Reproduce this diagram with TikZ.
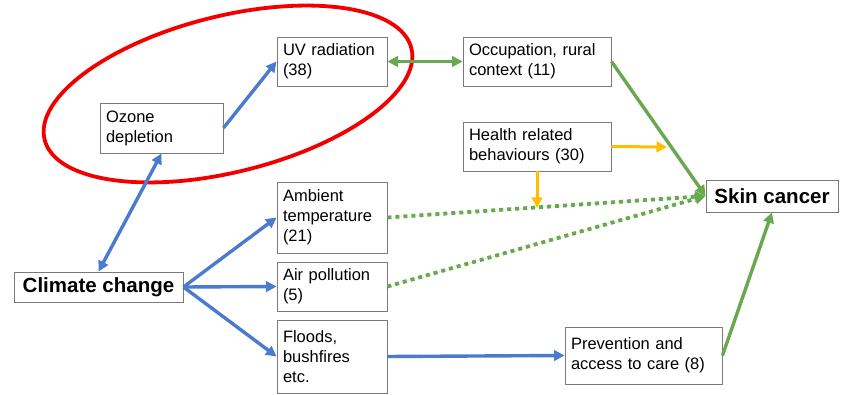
\documentclass[tikz,border=0pt]{standalone}
\usepackage{fontspec}
\setmainfont{Liberation Sans}
\usetikzlibrary{arrows.meta}

\definecolor{boxgray}{HTML}{7A7A7A}
\definecolor{linkblue}{HTML}{4A7BD0}
\definecolor{linkgreen}{HTML}{6AA84F}
\definecolor{linkyellow}{HTML}{FFBF00}
\definecolor{ringred}{HTML}{F20000}

\tikzset{
  box/.style={draw=boxgray, line width=0.9pt, fill=white, align=left,
    inner xsep=6pt, inner ysep=2pt,
    font=\fontsize{16.5}{20}\selectfont},
  keybox/.style={box, align=center, inner xsep=4pt,
    font=\fontsize{20.5}{24}\selectfont\bfseries},
  tip/.style={-{Triangle[length=10.5pt,width=10.5pt]}},
  bothtips/.style={{Triangle[length=10.5pt,width=10.5pt]}-{Triangle[length=10.5pt,width=10.5pt]}},
  bluelink/.style={tip, draw=linkblue, fill=linkblue, line width=3.4pt},
  greenlink/.style={tip, draw=linkgreen, fill=linkgreen, line width=3.4pt},
  yellowlink/.style={tip, draw=linkyellow, fill=linkyellow, line width=3pt},
  weaklink/.style={greenlink, dash pattern=on 4pt off 4pt, line width=3.8pt}
}

\begin{document}
\begin{tikzpicture}[x=1pt,y=-1pt]
    \useasboundingbox (0,0) rectangle (846,395);

    % Circled pathway
    \draw[ringred, line width=3.8pt, rotate around={14:(228,94)}]
        (228,94) ellipse [x radius=189, y radius=78];

    % Left column
    \node[box, text width=111pt, minimum height=50pt] (ozone) at (161.5,128) {Ozone\\depletion};
    \node[keybox, minimum width=169pt, minimum height=30pt] (climate) at (98.5,287) {Climate change};

    % Middle column
    \node[box, text width=98pt, minimum height=49pt] (uv) at (332,61.5) {UV radiation\\(38)};
    \node[box, text width=98pt, minimum height=71pt] (ambient) at (332,217.5) {Ambient\\temperature\\(21)};
    \node[box, text width=98pt, minimum height=49pt] (air) at (332,286.5) {Air pollution\\(5)};
    \node[box, text width=98pt, minimum height=73pt] (floods) at (332,356.5) {Floods,\\bushfires\\etc.};

    % Right part
    \node[box, text width=136pt, minimum height=49pt] (occupation) at (537,61.5) {Occupation, rural\\context (11)};
    \node[box, text width=136pt, minimum height=49pt] (health) at (537,146.5) {Health related\\behaviours (30)};
    \node[box, text width=145pt, minimum height=57pt] (prevention) at (643.5,355.5) {Prevention and\\access to care (8)};
    \node[keybox, minimum width=132pt, minimum height=32pt] (skin) at (772,196) {Skin cancer};

    % Free ends of the modifying arrows
    \coordinate (onpath) at (667,147);
    \coordinate (ondots) at (537,208);

    % Climate pathways
    \draw[bluelink, bothtips] (climate.north) -- (ozone.south);
    \draw[bluelink] (ozone.east) -- (uv.west);
    \draw[bluelink] (climate.east) -- (ambient.west);
    \draw[bluelink] (climate.east) -- (air.west);
    \draw[bluelink] (climate.east) -- (floods.west);
    \draw[bluelink] (floods.east) -- (prevention.west);

    % Links to skin cancer
    \draw[greenlink, bothtips] (uv.east) -- (occupation.west);
    \draw[greenlink] (occupation.east) -- (skin.west);
    \draw[greenlink] (prevention.east) -- (skin.south);
    \draw[weaklink] (ambient.east) -- (skin.west);
    \draw[weaklink] (air.east) -- (skin.west);

    % Behaviours
    \draw[yellowlink] (health.east) -- (onpath);
    \draw[yellowlink] (health.south) -- (ondots);
\end{tikzpicture}
\end{document}
